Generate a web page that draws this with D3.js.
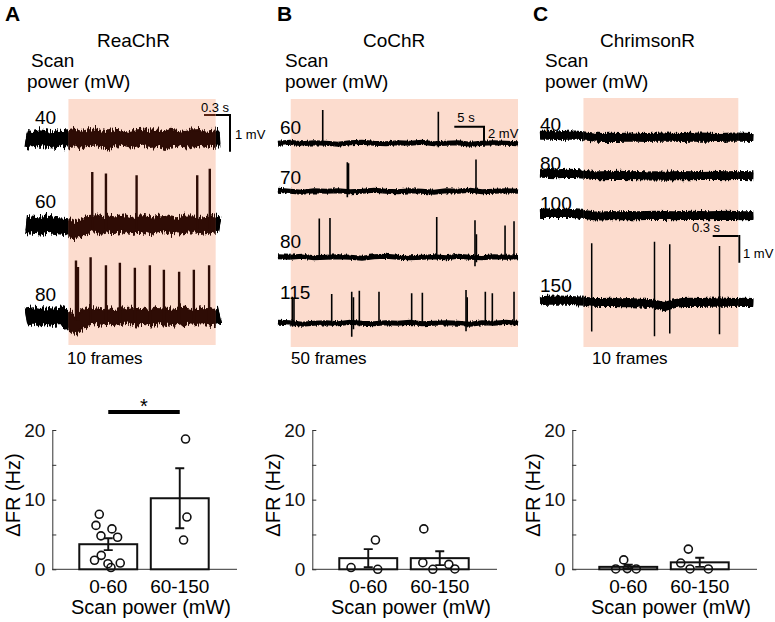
<!DOCTYPE html>
<html><head><meta charset="utf-8">
<script src="https://cdn.jsdelivr.net/npm/d3@7"></script>
<style>
body{margin:0;background:#fff;}
svg{display:block;font-family:"Liberation Sans",Arial,Helvetica,sans-serif;}
</style></head><body>
<svg id="fig" width="775" height="622"></svg>
<script>
// ================= DATA =================
const panelLetters = ["A", "B", "C"];
const opsins = ["ReaChR", "CoChR", "ChrimsonR"];
const frameLabels = ["10 frames", "50 frames", "10 frames"];
const scanLabel = ["Scan", "power (mW)"];

const powersA = ["40", "60", "80"];
const powersB = ["60", "70", "80", "115"];
const powersC = ["40", "80", "100", "150"];

// vertical offset of each trace (mV, relative to the top trace)
const offsetsA = [0, -2.35, -4.85];
const offsetsB = [0, -4.8, -11.4, -18.0];
const offsetsC = [0, -1.43, -2.93, -6.18];

// recording durations (s) and light (scan) windows (s)
const durationA = 2.24, durationB = 40.4, durationC = 2.405;
const lightA = [0.49, 2.19], lightB = [2.14, 40.4], lightC = [0.49, 2.236];

// scale bars [s, mV]
const scaleBarA = [0.3, 1], scaleBarB = [5, 2], scaleBarC = [0.3, 1];

// baseline samples (mV), evenly spaced over each recording
const baseA40 = [0.02,-0.02,0.03,0,-0.03,0.02,0,0.04,-0.02,0.03,0.05,0,-0.03,0.04,0.02,-0.02,0.03,0.05,-0.01,0.02,-0.03,0.04,0.01,-0.02,0.03,0.04,-0.01,0.02,0.03];
const baseA60 = [0.02,0,-0.02,0.03,0,-0.02,-0.04,-0.15,-0.06,0.02,0.04,-0.02,0.03,0,0.05,-0.02,0.02,0.04,-0.03,0.02,0.05,0,-0.02,0.03,0.04,-0.01,0.02,0.04,0.01];
const baseA80 = [0,0.03,-0.02,0.02,-0.01,0.02,-0.05,-0.22,-0.08,0.05,0.03,0,0.04,-0.02,0.03,0.05,0,0.02,-0.02,0.04,0.03,-0.01,0.02,0.05,0,0.03,0.04,-0.02,0.03];

const baseB60 = [0,0.1,-0.05,0.05,0,-0.1,0.05,0.1,0,-0.05,0.05,0,0.1,-0.05,0,0.05,-0.1,0,0.05,0,-0.05];
const baseB70 = [0.1,0,-0.1,0.05,0,0.05,-0.05,0,0.1,0,-0.05,0.05,0,-0.1,0.05,0,0.1,-0.05,0,0.05,0];
const baseB80 = [0.05,0,0.1,-0.05,0,0.05,0,-0.1,0.05,0.1,0,-0.05,0,0.05,-0.05,0.1,0,-0.05,0.05,0,0.05];
const baseB115 = [0.1,0.05,-0.1,0,0.05,-0.05,0.1,0,-0.05,0.05,0,0.1,-0.05,0,0.05,0,-0.1,0.05,0,0.1,0];

const baseC40 = [0.05,0.06,0.04,0.05,0.06,0.03,-0.01,-0.03,-0.02,-0.03,-0.01,-0.02,-0.03,-0.02,-0.01,-0.02,-0.03,-0.02,-0.01,-0.02,-0.03,-0.02,-0.01,-0.02,-0.03];
const baseC80 = [0.06,0.05,0.04,0.06,0.05,0.02,-0.02,-0.03,-0.02,-0.01,-0.03,-0.02,-0.04,-0.03,-0.05,-0.03,-0.02,-0.03,-0.02,-0.01,-0.02,-0.03,-0.02,-0.02,-0.03];
const baseC100 = [0.05,0.06,0.05,0.06,0.04,0.02,-0.03,-0.04,-0.02,-0.03,-0.02,-0.03,-0.02,-0.01,-0.02,-0.03,-0.02,-0.01,-0.02,-0.03,-0.02,-0.01,-0.02,-0.03,-0.02];
const baseC150 = [0.04,0.05,0.06,0.05,0.04,0.02,-0.02,-0.03,-0.02,-0.04,-0.03,-0.05,-0.06,-0.1,-0.18,-0.08,-0.03,-0.02,-0.03,-0.02,-0.01,-0.02,-0.03,-0.02,-0.03];

// spikes: [time (s), peak (mV), trough (mV)]
const spikesA40 = [];
const spikesA60 = [[0.765,1.45,-0.1],[0.923,1.41,-0.1],[1.277,1.36,-0.1],[1.977,1.36,-0.1],[2.122,1.54,-0.1]];
const spikesA80 = [[0.577,1.54,-0.1],[0.600,1.36,-0.1],[0.746,1.63,-0.1],[0.923,1.41,-0.1],[1.084,1.48,-0.1],[1.257,1.34,-0.1],[1.430,1.41,-0.1],[1.592,1.29,-0.1],[1.768,1.23,-0.1],[1.938,1.29,-0.1],[2.114,1.41,-0.1]];

const spikesB60 = [[7.53,3.33,-0.2],[26.99,3.16,-0.4]];
const spikesB70 = [[11.67,2.9,-0.6],[11.87,2.8,-0.3],[33.33,3.17,-0.2]];
const spikesB80 = [[6.95,3.87,-0.2],[8.75,3.94,-0.2],[26.72,4.04,-0.2],[33.16,3.7,-0.9],[33.4,2.3,-0.5],[38.22,3.17,-0.2],[39.73,3.6,-0.2]];
const spikesB115 = [[2.41,2.66,-0.3],[2.69,2.5,-0.3],[9.04,2.93,-0.2],[12.41,3.16,-1.34],[12.7,2.6,-0.6],[13.69,3.26,-0.3],[17.0,3.16,-0.2],[22.5,3.0,-0.3],[24.3,3.06,-0.2],[31.65,3.33,-0.8],[31.85,2.6,-0.4],[34.9,3.16,-0.2],[36.08,3.0,-0.2],[39.73,3.16,-0.2]];

const spikesC40 = [], spikesC80 = [], spikesC100 = [];
const spikesC150 = [[0.583,2.19,-1.12],[1.291,2.25,-1.29],[1.463,2.15,-1.19],[2.024,2.09,-1.22]];

// bar charts: ΔFR (Hz)
const groups = ["0-60", "60-150"];
const yTicks = [0, 5, 10, 15, 20];
const yTickLabels = ["0", "", "10", "", "20"];
const meansA = [3.6, 10.2], semA = [0.85, 4.3];
const meansB = [1.6, 1.6],  semB = [1.3, 1.0];
const meansC = [0.35, 1.0], semC = [0.3, 0.65];
const pointsA = [[7.9,6.3,5.8,4.8,4.6,2.0,1.3,0.8,0.9,0.25],[18.7,7.5,4.2]];
const pointsB = [[0.25,4.2,0.0],[5.8,0.95,0.0,0.7,0.05]];
const pointsC = [[0.05,1.35,0.1,0.05],[2.9,0.9,0.05,0.05]];
// horizontal jitter of points, as fraction of bar width
const jitterA = [[-0.155,-0.212,0.064,-0.126,0.161,-0.121,-0.237,-0.005,0.207,0.047],[0.1,0.124,0.066]];
const jitterB = [[-0.297,0.124,0.164],[-0.275,-0.292,-0.119,0.157,0.261]];
const jitterC = [[-0.216,-0.078,-0.017,0.138],[-0.197,-0.328,-0.168,0.149]];
const significance = ["*", "", ""];

// ================= LAYOUT =================
const PINK = "#fcdcce", BROWN = "#2e0c05";
const svg = d3.select("#fig");
svg.append("rect").attr("width", 775).attr("height", 622).attr("fill", "#fff");
const defs = svg.append("defs");

function noiseFilter(id, fx, fy, scale, seed) {
  const f = defs.append("filter").attr("id", id)
    .attr("filterUnits", "userSpaceOnUse").attr("x", 0).attr("y", 0)
    .attr("width", 775).attr("height", 622)
    .attr("color-interpolation-filters", "sRGB");
  f.append("feTurbulence").attr("type", "fractalNoise")
    .attr("baseFrequency", fx + " " + fy).attr("numOctaves", 2)
    .attr("seed", seed).attr("result", "n");
  f.append("feColorMatrix").attr("in", "n").attr("type", "matrix")
    .attr("values", "0 0 0 0 0.5  1 0 0 0 0  0 0 0 0 0  0 0 0 0 1")
    .attr("result", "m");
  f.append("feDisplacementMap").attr("in", "SourceGraphic").attr("in2", "m")
    .attr("scale", scale).attr("xChannelSelector", "R").attr("yChannelSelector", "G");
}
noiseFilter("nA", 0.7, 0.05, 13, 3);
noiseFilter("nB", 0.8, 0.1, 4, 5);
noiseFilter("nC", 0.8, 0.08, 6, 7);

const tracePanels = [
  { i: 0, powers: powersA, offsets: offsetsA, bases: [baseA40, baseA60, baseA80],
    spikes: [spikesA40, spikesA60, spikesA80], dur: durationA, light: lightA, sb: scaleBarA,
    xr: [26, 220], y0: 139, k: 36.7, pinkY: [99, 345], filter: "nA", coreW: 12, bandW: 17, spikeW: 2.4,
    inside: BROWN, labelX: 35, labelY: [124, 208, 301],
    sbCorner: [230, 115], sbTextH: [215, 112], sbTextV: [235, 139],
    letterX: 5, titleX: 97, scanX: [31, 27], framesX: 67 },
  { i: 1, powers: powersB, offsets: offsetsB, bases: [baseB60, baseB70, baseB80, baseB115],
    spikes: [spikesB60, spikesB70, spikesB80, spikesB115], dur: durationB, light: lightB, sb: scaleBarB,
    xr: [278, 518], y0: 143.3, k: 10, pinkY: [99, 347], filter: "nB", coreW: 3.6, bandW: 5, spikeW: 1.6,
    inside: "#000", labelX: 280, labelY: [134, 184, 248, 299],
    sbCorner: [484, 126.7], sbTextH: [466, 122], sbTextV: [488, 138],
    letterX: 277, titleX: 363, scanX: [285, 285], framesX: 291 },
  { i: 2, powers: powersC, offsets: offsetsC, bases: [baseC40, baseC80, baseC100, baseC150],
    spikes: [spikesC40, spikesC80, spikesC100, spikesC150], dur: durationC, light: lightC, sb: scaleBarC,
    xr: [540, 753.3], y0: 136.7, k: 26.7, pinkY: [98, 347], filter: "nC", coreW: 6.5, bandW: 9, spikeW: 1.5,
    inside: "#000", labelX: 540, labelY: [131, 170, 210, 292],
    sbCorner: [739.3, 236], sbTextH: [706, 232], sbTextV: [743, 258],
    letterX: 533, titleX: 600, scanX: [545, 545], framesX: 592 }
];

tracePanels.forEach(P => {
  const g = svg.append("g");
  const x = d3.scaleLinear().domain([0, P.dur]).range(P.xr);
  const y = d3.scaleLinear().domain([0, 1]).range([P.y0, P.y0 - P.k]);
  const pl = x(P.light[0]), pr = x(P.light[1]);

  // header text
  g.append("text").attr("x", P.letterX).attr("y", 21).attr("font-size", 21)
    .attr("font-weight", "bold").text(panelLetters[P.i]);
  g.append("text").attr("x", P.titleX).attr("y", 47).attr("font-size", 19).text(opsins[P.i]);
  g.append("text").attr("x", P.scanX[0]).attr("y", 67).attr("font-size", 19).text(scanLabel[0]);
  g.append("text").attr("x", P.scanX[1]).attr("y", 88).attr("font-size", 19).text(scanLabel[1]);

  // light window
  g.append("rect").attr("x", pl).attr("y", P.pinkY[0]).attr("width", pr - pl)
    .attr("height", P.pinkY[1] - P.pinkY[0]).attr("fill", PINK);
  g.append("text").attr("x", P.framesX).attr("y", 364).attr("font-size", 17).text(frameLabels[P.i]);

  // clip paths: inside / outside light window
  const cin = "cin" + P.i, cout = "cout" + P.i;
  defs.append("clipPath").attr("id", cin).append("rect")
    .attr("x", pl).attr("y", 0).attr("width", pr - pl).attr("height", 622);
  const co = defs.append("clipPath").attr("id", cout);
  co.append("rect").attr("x", 0).attr("y", 0).attr("width", pl).attr("height", 622);
  co.append("rect").attr("x", pr).attr("y", 0).attr("width", 775 - pr).attr("height", 622);

  const line = d3.line();
  [[cout, "#000"], [cin, P.inside]].forEach(([clip, col]) => {
    const layer = g.append("g").attr("clip-path", `url(#${clip})`);
    const noisy = layer.append("g").attr("filter", `url(#${P.filter})`);
    P.bases.forEach((b, j) => {
      const n = b.length;
      const pts = b.map((v, q) => [x(q * P.dur / (n - 1)), y(P.offsets[j] + v)]);
      layer.append("path").attr("d", line(pts)).attr("fill", "none")
        .attr("stroke", col).attr("stroke-width", P.coreW);
      noisy.append("path").attr("d", line(pts)).attr("fill", "none")
        .attr("stroke", col).attr("stroke-width", P.bandW);
    });
    P.spikes.forEach((sp, j) => {
      layer.selectAll(null).data(sp).join("line")
        .attr("x1", d => x(d[0])).attr("x2", d => x(d[0]))
        .attr("y1", d => y(P.offsets[j] + d[2])).attr("y2", d => y(P.offsets[j] + d[1]))
        .attr("stroke", col).attr("stroke-width", P.spikeW);
    });
    // scale bar
    const [cx, cy] = P.sbCorner;
    const hLen = x(P.sb[0]) - x(0), vLen = y(0) - y(P.sb[1]);
    layer.append("path").attr("d", `M${cx - hLen},${cy}H${cx}V${cy + vLen}`)
      .attr("fill", "none").attr("stroke", col === "#000" ? "#000" : "#5a2414")
      .attr("stroke-width", 2);
  });

  // trace labels
  g.selectAll(null).data(P.powers).join("text")
    .attr("x", P.labelX).attr("y", (d, j) => P.labelY[j]).attr("font-size", 19).text(d => d);
  // scale bar labels
  g.append("text").attr("x", P.sbTextH[0]).attr("y", P.sbTextH[1]).attr("font-size", 13)
    .attr("text-anchor", "middle").text(P.sb[0] + " s");
  g.append("text").attr("x", P.sbTextV[0]).attr("y", P.sbTextV[1]).attr("font-size", 13)
    .text(P.sb[1] + " mV");
});

// ================= BAR CHARTS =================
const barPanels = [
  { means: meansA, sem: semA, pts: pointsA, jit: jitterA },
  { means: meansB, sem: semB, pts: pointsB, jit: jitterB },
  { means: meansC, sem: semC, pts: pointsC, jit: jitterC }
];
barPanels.forEach((P, i) => {
  const dx = i * 260;
  const g = svg.append("g");
  const x = d3.scaleBand().domain(groups).range([72.5 + dx, 215.5 + dx])
    .paddingInner(0.19).paddingOuter(0.095);
  const y = d3.scaleLinear().domain([0, 20]).range([569.3, 430]);
  const ax0 = 52.3 + dx, axEnd = 237 + dx;

  const yAxis = g.append("g").attr("transform", `translate(${ax0},0)`)
    .call(d3.axisLeft(y).tickValues(yTicks).tickSizeInner(-4).tickSizeOuter(0)
      .tickPadding(7).tickFormat((d, k) => yTickLabels[k]));
  yAxis.select(".domain").attr("stroke", "#333");
  yAxis.selectAll(".tick line").attr("stroke", "#333");
  yAxis.selectAll("text").attr("font-size", 19).attr("font-family", "Liberation Sans, Arial, sans-serif")
    .attr("fill", "#111");
  g.append("line").attr("x1", ax0).attr("x2", axEnd).attr("y1", y(0)).attr("y2", y(0))
    .attr("stroke", "#333").attr("stroke-width", 1);

  const bw = x.bandwidth();
  g.selectAll(null).data(groups).join("rect")
    .attr("x", d => x(d)).attr("y", (d, k) => y(P.means[k]))
    .attr("width", bw).attr("height", (d, k) => y(0) - y(P.means[k]))
    .attr("fill", "#fff").attr("stroke", "#111").attr("stroke-width", 2);

  groups.forEach((gr, k) => {
    const c = x(gr) + bw / 2;
    g.selectAll(null).data(P.pts[k]).join("circle")
      .attr("cx", (d, q) => c + P.jit[k][q] * bw).attr("cy", d => y(d)).attr("r", 4)
      .attr("fill", "none").attr("stroke", "#111").attr("stroke-width", 1.6);
    const lo = y(P.means[k] - P.sem[k]), hi = y(P.means[k] + P.sem[k]);
    g.append("path").attr("d", `M${c},${lo}V${hi}M${c - 4.5},${hi}H${c + 4.5}M${c - 4.5},${lo}H${c + 4.5}`)
      .attr("stroke", "#111").attr("stroke-width", 1.9).attr("fill", "none");
    g.append("text").attr("x", c).attr("y", 593).attr("font-size", 19)
      .attr("text-anchor", "middle").text(gr);
  });

  g.append("text").attr("x", 151 + dx).attr("y", 614).attr("font-size", 20)
    .attr("text-anchor", "middle").text("Scan power (mW)");
  g.append("text").attr("transform", `translate(${20 + dx},495) rotate(-90)`)
    .attr("font-size", 20).attr("text-anchor", "middle").text("ΔFR (Hz)");

  if (significance[i]) {
    const c1 = x(groups[0]) + bw / 2, c2 = x(groups[1]) + bw / 2;
    g.append("line").attr("x1", c1).attr("x2", c2).attr("y1", y(22.6)).attr("y2", y(22.6))
      .attr("stroke", "#000").attr("stroke-width", 4);
    g.append("text").attr("x", (c1 + c2) / 2).attr("y", 413).attr("font-size", 20)
      .attr("text-anchor", "middle").text(significance[i]);
  }
});
</script>
</body></html>
